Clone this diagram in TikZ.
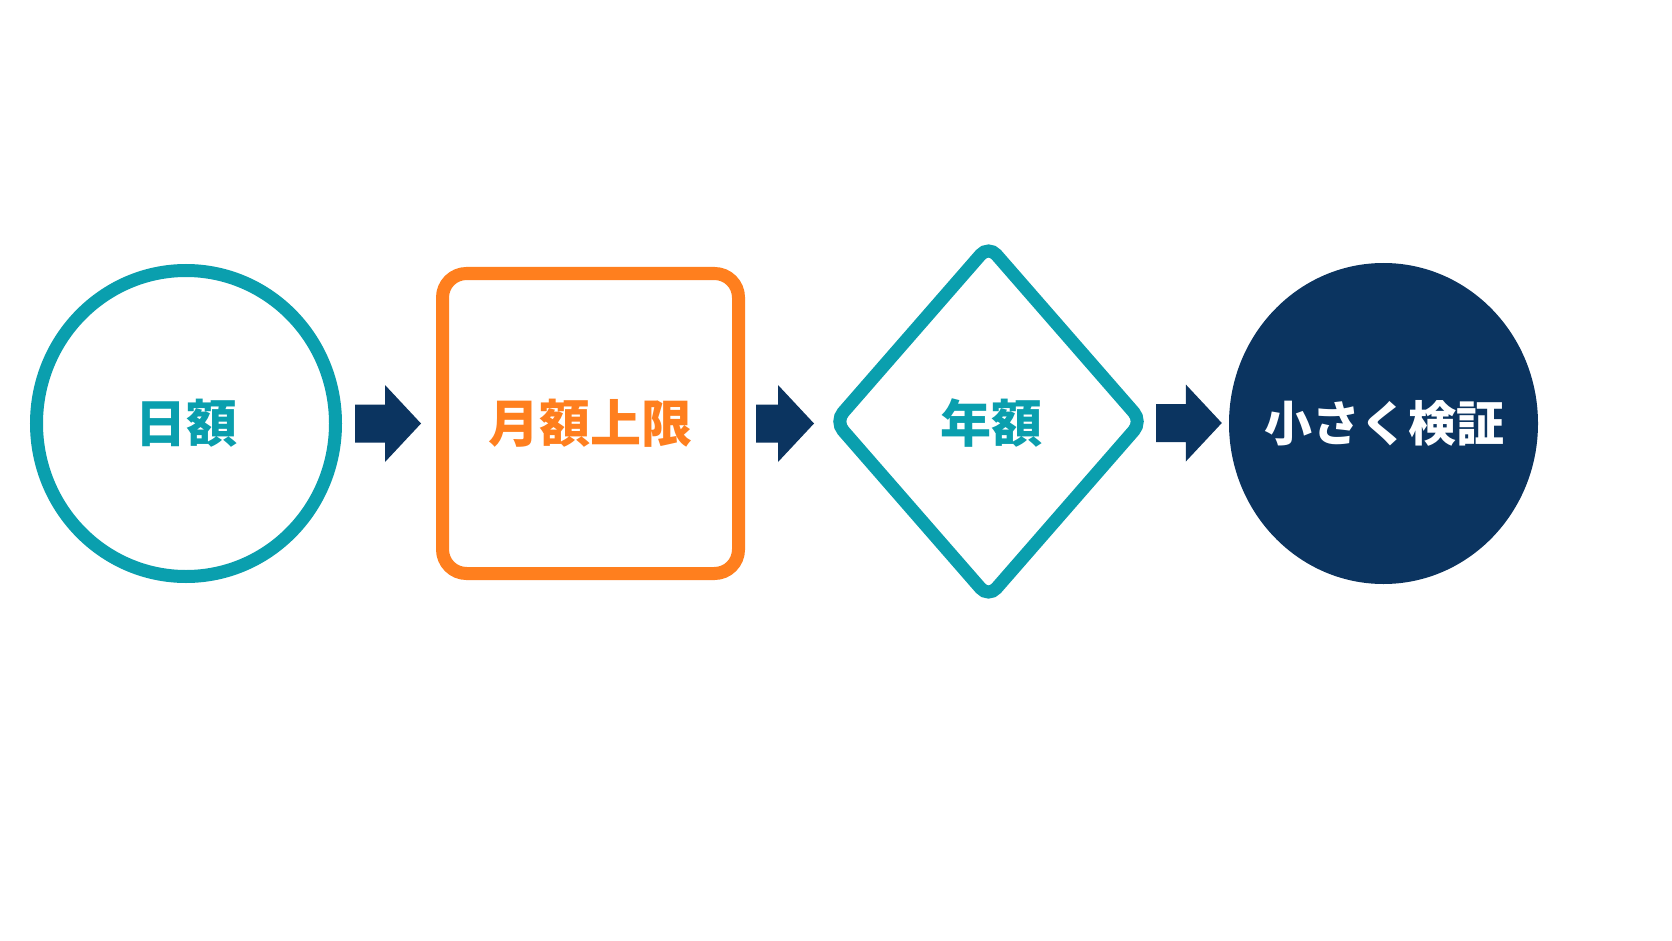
\documentclass[tikz,border=0pt]{standalone}
\usepackage{fontspec}
\newfontfamily\cjk{Noto Sans CJK JP}
\usetikzlibrary{shapes.geometric,calc}
\definecolor{tealc}{HTML}{0A9FAE}
\definecolor{orangec}{HTML}{FF7F1E}
\definecolor{navyc}{HTML}{0B3460}
\tikzset{
  lbl/.style={font=\cjk\bfseries\fontsize{51}{60}\selectfont, inner sep=0pt},
  shp/.style={line width=13pt, inner sep=0pt},
}
\newcommand{\blockarrow}[2]{%
  \fill[navyc] let \p1=(#1), \p2=(#2) in
    (\x1,\y1+19pt) -- (\x2-36pt,\y1+19pt) -- (\x2-36pt,\y1+38.5pt) -- (\x2,\y1)
    -- (\x2-36pt,\y1-38.5pt) -- (\x2-36pt,\y1-19pt) -- (\x1,\y1-19pt) -- cycle;}
\begin{document}
\begin{tikzpicture}[x=1pt,y=-1pt]
\useasboundingbox[fill=white] (0,0) rectangle (1672,941);
\node[shp, ellipse, draw=tealc, minimum width=299pt, minimum height=306pt] (a) at (186,423.5) {};
\node[lbl, text=tealc] (ta) at (186,423) {日額};
\node[shp, rectangle, rounded corners=24pt, draw=orangec, minimum width=296pt, minimum height=300pt] (b) at (590.5,423.5) {};
\node[lbl, text=orangec] (tb) at (590,423) {月額上限};
\node[shp, diamond, rounded corners=12pt, draw=tealc, minimum width=312pt, minimum height=357pt] (c) at (988.5,421.5) {};
\node[lbl, text=tealc] (tc) at (991,423) {年額};
\node[ellipse, fill=navyc, inner sep=0pt, minimum width=309pt, minimum height=321pt] (d) at (1383.5,423.5) {};
\node[lbl, text=white, font=\cjk\bfseries\fontsize{48}{58}\selectfont] (td) at (1384,423) {小さく検証};
\coordinate (s1) at ($(a.east)+(13,0)$);
\coordinate (e1) at ($(b.west)+(-15,0)$);
\coordinate (s2) at ($(b.east)+(11,0)$);
\coordinate (e2) at ($(c.west)+(-12,1.5)$);
\coordinate (s3) at ($(c.east)+(5,1.5)$);
\coordinate (e3) at ($(d.west)+(-7,0)$);
\blockarrow{s1}{e1}
\blockarrow{s2}{e2}
\blockarrow{s3}{e3}
\end{tikzpicture}
\end{document}
